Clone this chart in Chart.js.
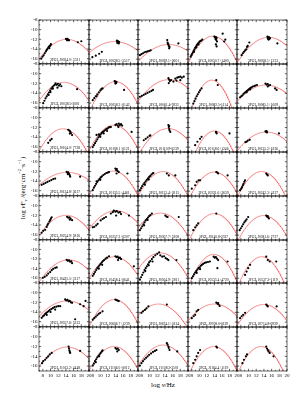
<!DOCTYPE html>
<html>
<head>
<meta charset="utf-8">
<script src="https://cdn.jsdelivr.net/npm/chart.js@4.4.1/dist/chart.umd.min.js"></script>
<style>
  html, body { margin: 0; padding: 0; background: #fff; }
  #fig { position: relative; width: 307px; height: 406px; overflow: hidden; font-family: "Liberation Serif", serif; color: #000; }
  #fig canvas { position: absolute; }
  .title { position: absolute; font-size: 7px; white-space: nowrap; line-height: 1; }
  .title sub, .title sup { font-size: 4.5px; line-height: 0; }
  #ytitle { left: 23px; top: 188px; transform: translate(-50%, -50%) rotate(-90deg); }
  #xtitle { left: 163px; top: 385px; transform: translate(-50%, -50%); }
</style>
</head>
<body>
<div id="fig">
  <div class="title" id="ytitle">log <i>ν</i>F<sub><i>ν</i></sub> /(erg·cm<sup>−2</sup>·s<sup>−1</sup>)</div>
  <div class="title" id="xtitle">log <i>ν</i>/Hz</div>
</div>
<script>
// Axis ticks
const xTicks = [8, 10, 12, 14, 16, 18, 20];
const yTicks = [-16, -14, -12, -10, -8];

// Source names, one per panel (row by row)
const names = [
  '3FGL J0024.0+3311', '3FGL J0028.5+5517', '3FGL J0039.1+0601', '3FGL J0050.7+1400', '3FGL J0058.1+1233',
  '3FGL J0038.5-3001', '3FGL J0058.3+0142', '3FGL J0061.4-7833', '3FGL J0082.5-1114', '3FGL J0085.1+1609',
  '3FGL J0104.0+7738', '3FGL J0108.1+0121', '3FGL J0110.9-0239', '3FGL J0118.6+1246', '3FGL J0125.2+6126',
  '3FGL J0134.8+3617', '3FGL J0135.5+4461', '3FGL J0153.4+0215', '3FGL J0221.6+3659', '3FGL J0242.3+4137',
  '3FGL J0254.9+5816', '3FGL J0257.2+0207', '3FGL J0307.7+5208', '3FGL J0340.8-2337', '3FGL J0381.6+2727',
  '3FGL J0425.5+3117', '3FGL J0458.4+0641', '3FGL J0504.9+3811', '3FGL J0533.4+4720', '3FGL J0537.2-1119',
  '3FGL J0557.6+5333', '3FGL J0606.7+1239', '3FGL J0674.1+0134', '3FGL J0708.0-0139', '3FGL J0714.8-0939',
  '3FGL J1013.2+4448', '3FGL J1106.0+0012', '3FGL J1108.3-2501', '3FGL J1164.4+1119', ''
];

// Log-parabola fit per panel: peak frequency, peak flux, curvature
const peakNu = [14.2, 13.8, 15.0, 13.6, 15.2, 13.5, 14.0, 15.0, 13.3, 14.5,
                13.2, 13.6, 14.8, 14.0, 14.6, 14.3, 13.5, 13.5, 14.0, 13.4,
                14.0, 14.1, 12.8, 14.0, 13.9, 14.7, 13.7, 12.8, 13.8, 13.4,
                14.3, 13.7, 12.3, 14.0, 13.9, 14.3, 13.6, 13.5, 13.8, 13.2];
const peakFlux = [-12.0, -12.4, -13.0, -11.3, -11.55, -11.8, -11.6, -11.2, -11.3, -12.3,
                  -12.3, -11.5, -12.2, -12.7, -12.9, -12.2, -11.9, -12.0, -12.1, -12.0,
                  -12.0, -11.0, -11.5, -11.6, -12.0, -12.2, -11.5, -10.7, -11.0, -11.5,
                  -11.7, -11.4, -12.3, -12.3, -12.4, -12.1, -12.0, -11.7, -12.0, -12.0];
const curv = [0.08, 0.05, 0.055, 0.13, 0.078, 0.09, 0.13, 0.07, 0.2, 0.06,
              0.12, 0.12, 0.09, 0.17, 0.068, 0.05, 0.12, 0.12, 0.12, 0.13,
              0.085, 0.075, 0.09, 0.12, 0.115, 0.08, 0.1, 0.1, 0.15, 0.16,
              0.06, 0.125, 0.085, 0.07, 0.09, 0.075, 0.115, 0.1, 0.13, 0.15];

// Observed SED points per panel [log nu, log nuFnu]
const sedPoints = [
  [[7.6,-16.0],[7.9,-15.6],[8.2,-15.3],[8.5,-14.9],[8.8,-14.5],[9.0,-14.2],[9.2,-14.0],[9.4,-13.7],[9.6,-13.5],[9.8,-13.4],[10.0,-13.2],[10.1,-13.0],[9.7,-13.8],[14.0,-11.9],[14.2,-12.0],[14.4,-11.9],[14.6,-12.1],[14.8,-12.2],[14.3,-12.2],[17.1,-12.6],[18.0,-12.4]],
  [[7.9,-15.6],[8.8,-15.3],[9.7,-14.9],[10.4,-14.5],[14.4,-12.2],[14.5,-12.4],[14.6,-12.3],[14.7,-12.6],[14.8,-12.4],[15.0,-12.5],[14.5,-12.7],[14.9,-12.8]],
  [[7.5,-15.2],[7.9,-15.0],[8.3,-14.8],[8.7,-14.6],[9.1,-14.5],[9.5,-14.4],[9.9,-14.3],[10.3,-14.2],[14.6,-12.1],[14.7,-12.6],[14.9,-13.0],[15.0,-13.3],[15.2,-13.5],[14.8,-12.9],[15.1,-13.8],[17.5,-12.8]],
  [[7.7,-15.5],[7.9,-15.2],[8.1,-14.9],[8.3,-14.6],[8.5,-14.3],[8.7,-14.0],[8.9,-13.7],[9.1,-13.5],[9.3,-13.2],[9.5,-13.0],[9.7,-12.8],[9.9,-12.6],[10.1,-12.4],[10.3,-12.3],[10.5,-12.2],[10.8,-12.0],[8.6,-14.5],[9.2,-13.6],[9.8,-13.0],[14.0,-11.4],[14.2,-11.6],[14.4,-11.5],[14.6,-11.7],[14.3,-11.9],[14.5,-12.1],[14.7,-12.4],[14.4,-13.0],[14.6,-13.4],[16.2,-10.8],[16.6,-12.4],[16.9,-12.0]],
  [[8.2,-15.2],[8.5,-14.8],[8.8,-14.5],[9.1,-14.2],[9.4,-14.0],[9.6,-13.5],[9.8,-13.3],[10.2,-12.6],[14.9,-11.4],[15.1,-11.6],[15.3,-11.5],[15.0,-11.8],[15.4,-11.9],[15.6,-11.7],[15.2,-12.0],[17.5,-12.8]],
  [[8.1,-16.1],[8.4,-15.6],[8.7,-15.1],[9.0,-14.7],[9.3,-14.3],[9.6,-13.9],[9.9,-13.5],[10.2,-13.1],[10.5,-12.8],[10.8,-12.5],[11.1,-12.3],[9.5,-14.4],[10.0,-13.8],[10.6,-13.1],[11.3,-12.0],[11.6,-12.3],[11.9,-12.1],[12.2,-12.5],[12.5,-12.2],[12.8,-12.6],[11.8,-12.9],[16.9,-13.2]],
  [[8.0,-15.4],[8.4,-15.0],[8.8,-14.6],[9.2,-14.2],[9.6,-13.8],[10.0,-13.4],[10.3,-13.1],[10.6,-13.0],[9.0,-14.6],[13.8,-11.5],[14.0,-11.7],[14.1,-11.6],[14.2,-11.9],[14.3,-11.7],[14.0,-12.0],[16.3,-13.3]],
  [[7.5,-14.7],[8.0,-14.5],[8.5,-14.3],[9.0,-14.1],[9.5,-13.9],[10.0,-13.7],[10.5,-13.5],[10.9,-13.3],[14.9,-10.9],[15.1,-11.2],[15.3,-11.5],[15.0,-11.9],[15.6,-11.3],[16.2,-11.6],[16.7,-11.0],[17.2,-10.8],[17.6,-10.7],[18.0,-10.6],[18.4,-10.8],[18.9,-10.6],[17.0,-11.4],[18.0,-11.3]],
  [[8.4,-16.1],[8.7,-15.6],[9.0,-15.1],[9.3,-14.6],[9.6,-14.2],[9.9,-13.8],[10.2,-13.4],[10.6,-13.0],[14.5,-11.3],[14.9,-12.3]],
  [[7.8,-14.8],[8.1,-14.6],[8.4,-14.4],[8.7,-14.1],[9.0,-13.9],[9.3,-13.7],[9.6,-13.5],[9.9,-13.3],[10.2,-13.1],[10.5,-12.9],[10.8,-12.8],[11.1,-12.6],[11.5,-12.5],[11.8,-12.4],[12.2,-12.3],[9.5,-13.8],[10.4,-13.2],[14.4,-12.0],[14.7,-12.2],[15.0,-12.1],[15.3,-12.4],[15.6,-12.3],[15.0,-12.6],[16.9,-13.0],[17.3,-13.3]],
  [[9.4,-15.2],[9.9,-14.7],[10.3,-14.4],[14.6,-12.5],[14.9,-12.7],[15.1,-12.9],[15.3,-13.2],[15.6,-13.6],[15.0,-13.3]],
  [[8.0,-16.0],[8.3,-15.6],[8.6,-15.2],[8.9,-14.8],[9.2,-14.4],[9.5,-14.0],[9.8,-13.7],[10.1,-13.4],[10.4,-13.1],[10.7,-12.9],[11.0,-12.7],[11.3,-12.5],[11.6,-12.3],[11.9,-12.2],[12.2,-12.0],[12.5,-11.9],[12.8,-11.9],[9.0,-13.5],[9.6,-13.4],[10.0,-13.9],[10.9,-13.2],[11.8,-12.7],[14.0,-11.5],[14.3,-11.3],[14.6,-11.6],[14.9,-11.2],[15.2,-11.5],[15.5,-11.3],[15.8,-11.6],[14.8,-11.9],[18.3,-12.9]],
  [[8.5,-14.6],[9.0,-14.3],[9.5,-14.0],[10.0,-13.7],[10.2,-13.6],[14.9,-11.5],[15.0,-11.9],[15.1,-12.3],[15.2,-12.6],[15.4,-12.9],[15.1,-11.7]],
  [[8.9,-15.6],[9.5,-14.9],[10.2,-14.3],[10.6,-13.9],[14.4,-12.9],[14.6,-13.2],[14.5,-13.0],[18.0,-13.2]],
  [[9.2,-15.0],[9.5,-14.9],[9.8,-14.7],[10.3,-14.5],[14.4,-12.8],[14.6,-12.9],[14.8,-13.0],[14.7,-12.7],[17.9,-13.2]],
  [[7.7,-14.8],[8.2,-14.6],[8.7,-14.4],[9.2,-14.2],[9.7,-14.0],[10.2,-13.8],[10.7,-13.6],[11.2,-13.5],[14.2,-12.1],[14.4,-12.3],[14.6,-12.2],[14.8,-12.5],[15.0,-12.8],[15.1,-13.1],[14.5,-12.6],[17.7,-13.1]],
  [[8.0,-15.8],[8.3,-15.3],[8.6,-14.9],[8.9,-14.5],[9.2,-14.1],[9.5,-13.8],[9.8,-13.5],[10.1,-13.2],[10.4,-13.0],[10.8,-12.7],[11.2,-12.5],[11.6,-12.3],[12.0,-12.2],[12.3,-12.1],[9.0,-14.0],[10.0,-13.7],[14.0,-11.4],[14.2,-11.7],[14.4,-11.5],[14.6,-11.9],[14.9,-12.1],[14.3,-12.4],[17.2,-12.4]],
  [[7.5,-15.8],[7.8,-15.4],[8.1,-15.0],[8.4,-14.6],[8.7,-14.3],[9.0,-14.0],[9.3,-13.7],[9.6,-13.4],[9.9,-13.1],[10.2,-12.9],[10.5,-12.6],[10.8,-12.4],[11.0,-12.3],[8.8,-14.7],[9.8,-13.6],[14.5,-12.4],[15.0,-12.8],[16.7,-12.8]],
  [[8.0,-15.5],[8.9,-14.8],[9.3,-14.1],[9.8,-13.8],[10.2,-13.8],[14.5,-12.1],[15.0,-12.4],[14.8,-12.2],[17.5,-12.8]],
  [[7.8,-15.8],[8.1,-15.5],[8.3,-15.2],[8.5,-14.8],[8.7,-14.5],[8.9,-14.1],[9.1,-13.8],[14.6,-12.4],[14.8,-12.6],[15.0,-12.8]],
  [[7.7,-15.6],[8.1,-15.2],[8.6,-15.0],[9.0,-14.4],[9.2,-14.0],[9.4,-13.7],[9.7,-13.3],[9.9,-13.0],[10.1,-12.7],[10.3,-12.4],[14.3,-12.3],[14.6,-12.5],[14.9,-12.4],[15.2,-12.7],[15.6,-13.0],[15.0,-12.9]],
  [[8.0,-14.4],[8.4,-14.3],[8.9,-14.0],[9.3,-13.7],[10.1,-13.0],[10.6,-12.7],[11.0,-12.5],[11.5,-12.3],[12.8,-11.6],[13.3,-11.3],[13.6,-11.0],[14.0,-11.2],[14.4,-11.1],[14.8,-11.4],[15.2,-11.3],[15.5,-11.7],[14.2,-12.0],[17.6,-12.0]],
  [[7.5,-15.0],[7.8,-14.6],[8.1,-14.2],[8.4,-13.8],[8.7,-13.4],[9.0,-13.0],[9.3,-12.7],[9.6,-12.4],[9.9,-12.1],[10.2,-11.9],[10.6,-11.6],[8.6,-14.0],[9.5,-12.9],[14.1,-12.0],[14.4,-12.2],[14.7,-12.3],[17.6,-12.3]],
  [[8.4,-15.0],[8.9,-14.4],[9.3,-14.0],[9.7,-13.6],[14.5,-11.6]],
  [[7.7,-15.0],[8.0,-14.6],[8.3,-14.2],[8.6,-13.8],[8.9,-13.4],[9.2,-13.1],[9.5,-12.8],[9.9,-12.3],[14.6,-12.0],[14.8,-12.2],[15.0,-12.1],[15.3,-12.6],[15.1,-12.4]],
  [[8.0,-16.0],[8.5,-15.8],[9.0,-15.5],[9.4,-15.1],[9.9,-14.8],[10.3,-14.4],[10.7,-14.1],[11.2,-13.9],[11.6,-13.8],[14.2,-12.2],[14.5,-12.4],[14.8,-12.3],[15.1,-12.6],[15.4,-12.5],[15.6,-12.9]],
  [[8.0,-15.5],[8.3,-15.1],[8.6,-14.7],[8.9,-14.3],[9.2,-13.9],[9.5,-13.6],[9.8,-13.3],[10.1,-13.0],[10.4,-12.7],[10.7,-12.4],[11.0,-12.2],[11.4,-11.9],[11.8,-11.7],[12.3,-11.4],[9.6,-14.0],[10.5,-13.2],[14.0,-11.4],[14.3,-11.6],[14.6,-11.5],[14.9,-11.8],[15.2,-11.7],[15.5,-12.0],[14.7,-12.2],[18.9,-13.5]],
  [[7.5,-16.3],[7.8,-15.8],[8.1,-15.3],[8.4,-14.8],[8.7,-14.3],[9.0,-13.9],[9.3,-13.5],[9.6,-13.1],[9.9,-12.7],[10.2,-12.4],[10.6,-12.0],[11.0,-11.6],[11.5,-11.2],[12.0,-10.9],[12.5,-10.6],[8.9,-14.5],[9.8,-13.3],[10.8,-12.5],[12.8,-11.2],[13.3,-11.5],[13.8,-11.4],[14.2,-11.8],[14.6,-12.0],[14.9,-12.2],[17.0,-12.2]],
  [[8.0,-16.0],[8.3,-15.6],[8.6,-15.2],[8.9,-14.8],[9.2,-14.5],[9.5,-14.2],[9.8,-13.9],[10.1,-13.7],[10.4,-13.4],[10.7,-13.2],[11.0,-13.0],[11.4,-12.8],[11.8,-12.7],[12.3,-12.6],[12.8,-12.5],[9.3,-14.9],[10.2,-14.1],[13.8,-11.5],[14.1,-11.7],[14.4,-11.6],[14.7,-11.9],[15.0,-12.2],[14.8,-13.9],[17.5,-12.5]],
  [[9.1,-15.3],[9.5,-14.6],[9.9,-13.9],[10.4,-13.2],[14.6,-11.5],[15.0,-12.2],[15.5,-12.5],[17.2,-12.5]],
  [[7.7,-15.2],[8.0,-14.9],[8.3,-14.7],[8.6,-14.4],[8.9,-14.2],[9.2,-14.0],[9.5,-13.8],[9.8,-13.6],[10.2,-13.4],[10.6,-13.2],[11.0,-13.0],[11.5,-12.9],[12.0,-12.8],[12.5,-12.8],[9.0,-14.6],[10.0,-14.0],[11.2,-13.5],[13.8,-11.4],[14.1,-11.6],[14.4,-11.5],[14.7,-11.8],[15.0,-11.7],[15.3,-12.0],[15.6,-12.1],[16.4,-15.5],[17.7,-12.4],[18.6,-12.8],[19.1,-11.7]],
  [[8.0,-15.5],[8.4,-15.2],[8.8,-14.9],[9.2,-14.6],[9.6,-14.3],[10.0,-14.1],[10.6,-13.8],[14.0,-11.4],[14.3,-11.5],[14.6,-11.6],[14.9,-11.7]],
  [[7.9,-14.1],[8.3,-13.8],[8.8,-13.5],[9.2,-13.2],[9.7,-12.8],[14.5,-12.4]],
  [[8.0,-15.2],[8.5,-14.8],[8.9,-14.5],[9.3,-13.8],[9.7,-13.5],[14.5,-12.0],[14.8,-12.2],[15.1,-12.4],[15.4,-12.7],[15.0,-12.1]],
  [[7.8,-15.2],[8.2,-14.8],[8.6,-14.5],[9.1,-14.1],[14.6,-12.4],[14.8,-12.6],[15.0,-12.8],[17.3,-12.8]],
  [[7.8,-15.4],[8.1,-15.0],[8.6,-14.7],[9.0,-14.3],[9.4,-14.0],[9.8,-13.6],[10.3,-13.3],[14.7,-12.0],[14.8,-12.4],[14.9,-12.8],[15.0,-13.1],[15.1,-13.3],[17.7,-12.9]],
  [[8.0,-15.9],[8.3,-15.5],[8.6,-15.0],[8.9,-14.6],[9.2,-14.2],[9.5,-13.9],[9.8,-13.6],[10.1,-13.3],[10.4,-13.0],[10.6,-12.8],[8.8,-15.2],[9.7,-14.0],[14.0,-12.3],[14.3,-12.5],[14.6,-12.4],[14.9,-12.7],[14.5,-13.0]],
  [[7.5,-15.9],[7.9,-15.4],[8.3,-15.0],[8.7,-14.6],[9.1,-14.3],[9.5,-14.0],[9.9,-13.7],[10.4,-13.4],[10.9,-13.1],[11.4,-12.9],[11.8,-12.7],[14.5,-11.3],[14.7,-11.6],[14.9,-12.0],[15.0,-12.3],[15.2,-12.7],[17.2,-13.0]],
  [[8.4,-15.4],[8.9,-14.7],[9.3,-14.0],[9.7,-13.3],[10.2,-12.7],[14.5,-12.0],[14.7,-12.2]],
  [[8.4,-15.4],[8.8,-14.7],[9.3,-14.0],[9.6,-13.6],[14.6,-12.0],[14.8,-12.4],[15.0,-12.7],[15.2,-13.0],[15.5,-13.3],[16.5,-14.0]]
];

// Panel grid (pixel edges of the plot boxes)
const colEdges = [39, 89, 138, 188, 237, 287];
const rowEdges = [20, 64, 108, 152, 196, 240, 283, 327, 371];
const NCOL = 5, NROW = 8;

// Frame, inward ticks and source label
const panelPlugin = {
    id: 'panel',
    afterDatasetsDraw(chart, args, opts) {
        const { ctx, chartArea: a, scales: { x, y } } = chart;
        ctx.save();
        ctx.strokeStyle = '#000';
        ctx.lineWidth = 0.6;
        ctx.beginPath();
        for (let v = Math.ceil(x.min); v <= x.max; v++) {
            const px = x.getPixelForValue(v);
            const len = v % 2 === 0 ? 2.2 : 1.2;
            ctx.moveTo(px, a.bottom); ctx.lineTo(px, a.bottom - len);
            ctx.moveTo(px, a.top); ctx.lineTo(px, a.top + len);
        }
        for (let v = Math.ceil(y.min); v <= y.max; v++) {
            const py = y.getPixelForValue(v);
            const len = v % 2 === 0 ? 2.2 : 1.2;
            ctx.moveTo(a.left, py); ctx.lineTo(a.left + len, py);
            ctx.moveTo(a.right, py); ctx.lineTo(a.right - len, py);
        }
        ctx.stroke();
        ctx.strokeRect(a.left, a.top, a.right - a.left, a.bottom - a.top);
        ctx.fillStyle = '#000';
        ctx.font = '3.6px "Liberation Serif"';
        ctx.textAlign = 'center';
        ctx.textBaseline = 'alphabetic';
        ctx.fillText(opts.label, (a.left + a.right) / 2 + 1, a.bottom - 2.2);
        ctx.restore();
    }
};

function fitCurve(i) {
    const pts = [];
    for (let k = 0; k <= 130; k++) {
        const nu = 7 + k * 0.1;
        pts.push({ x: nu, y: peakFlux[i] - curv[i] * (nu - peakNu[i]) ** 2 });
    }
    return pts;
}

document.addEventListener('DOMContentLoaded', () => {
    const fig = document.getElementById('fig');
    const tickFont = { family: 'Liberation Serif', size: 5 };

    for (let r = 0; r < NROW; r++) {
        for (let c = 0; c < NCOL; c++) {
            const i = r * NCOL + c;
            const leftCol = c === 0, bottomRow = r === NROW - 1;
            const yAxisW = leftCol ? 14 : 0, xAxisH = bottomRow ? 7 : 0;
            const pad = 4, padT = 5;
            const pw = colEdges[c + 1] - colEdges[c], ph = rowEdges[r + 1] - rowEdges[r];
            const W = pw + yAxisW + pad * 2, H = ph + xAxisH + pad + padT;

            const cv = document.createElement('canvas');
            cv.width = W; cv.height = H;
            cv.style.width = W + 'px'; cv.style.height = H + 'px';
            cv.style.left = (colEdges[c] - yAxisW - pad) + 'px';
            cv.style.top = (rowEdges[r] - padT) + 'px';
            fig.appendChild(cv);

            new Chart(cv.getContext('2d'), {
                type: 'scatter',
                data: {
                    datasets: [{
                        data: fitCurve(i),
                        showLine: true,
                        borderColor: 'rgba(242, 90, 90, 0.8)',
                        borderWidth: 0.8,
                        pointRadius: 0,
                        order: 2
                    }, {
                        data: sedPoints[i].map(p => ({ x: p[0], y: p[1] })),
                        backgroundColor: '#000',
                        borderColor: '#000',
                        borderWidth: 0,
                        pointRadius: 1.1,
                        order: 1
                    }]
                },
                options: {
                    responsive: false,
                    animation: false,
                    events: [],
                    devicePixelRatio: 1,
                    layout: { padding: { left: pad, right: pad, top: padT, bottom: pad } },
                    plugins: {
                        legend: { display: false },
                        tooltip: { enabled: false },
                        panel: { label: names[i] }
                    },
                    scales: {
                        x: {
                            type: 'linear', min: 7, max: 20,
                            afterBuildTicks: s => { s.ticks = xTicks.map(v => ({ value: v })); },
                            afterFit: s => { s.height = xAxisH; },
                            grid: { display: false, drawTicks: false },
                            border: { display: false },
                            ticks: { display: bottomRow, font: tickFont, color: '#000', padding: 1.5, maxRotation: 0, autoSkip: false }
                        },
                        y: {
                            type: 'linear', min: -17, max: -8,
                            afterBuildTicks: s => { s.ticks = yTicks.map(v => ({ value: v })); },
                            afterFit: s => { s.width = yAxisW; },
                            grid: { display: false, drawTicks: false },
                            border: { display: false },
                            ticks: { display: leftCol, font: tickFont, color: '#000', padding: 1.5 }
                        }
                    }
                },
                plugins: [panelPlugin]
            });
        }
    }
});
</script>
</body>
</html>
